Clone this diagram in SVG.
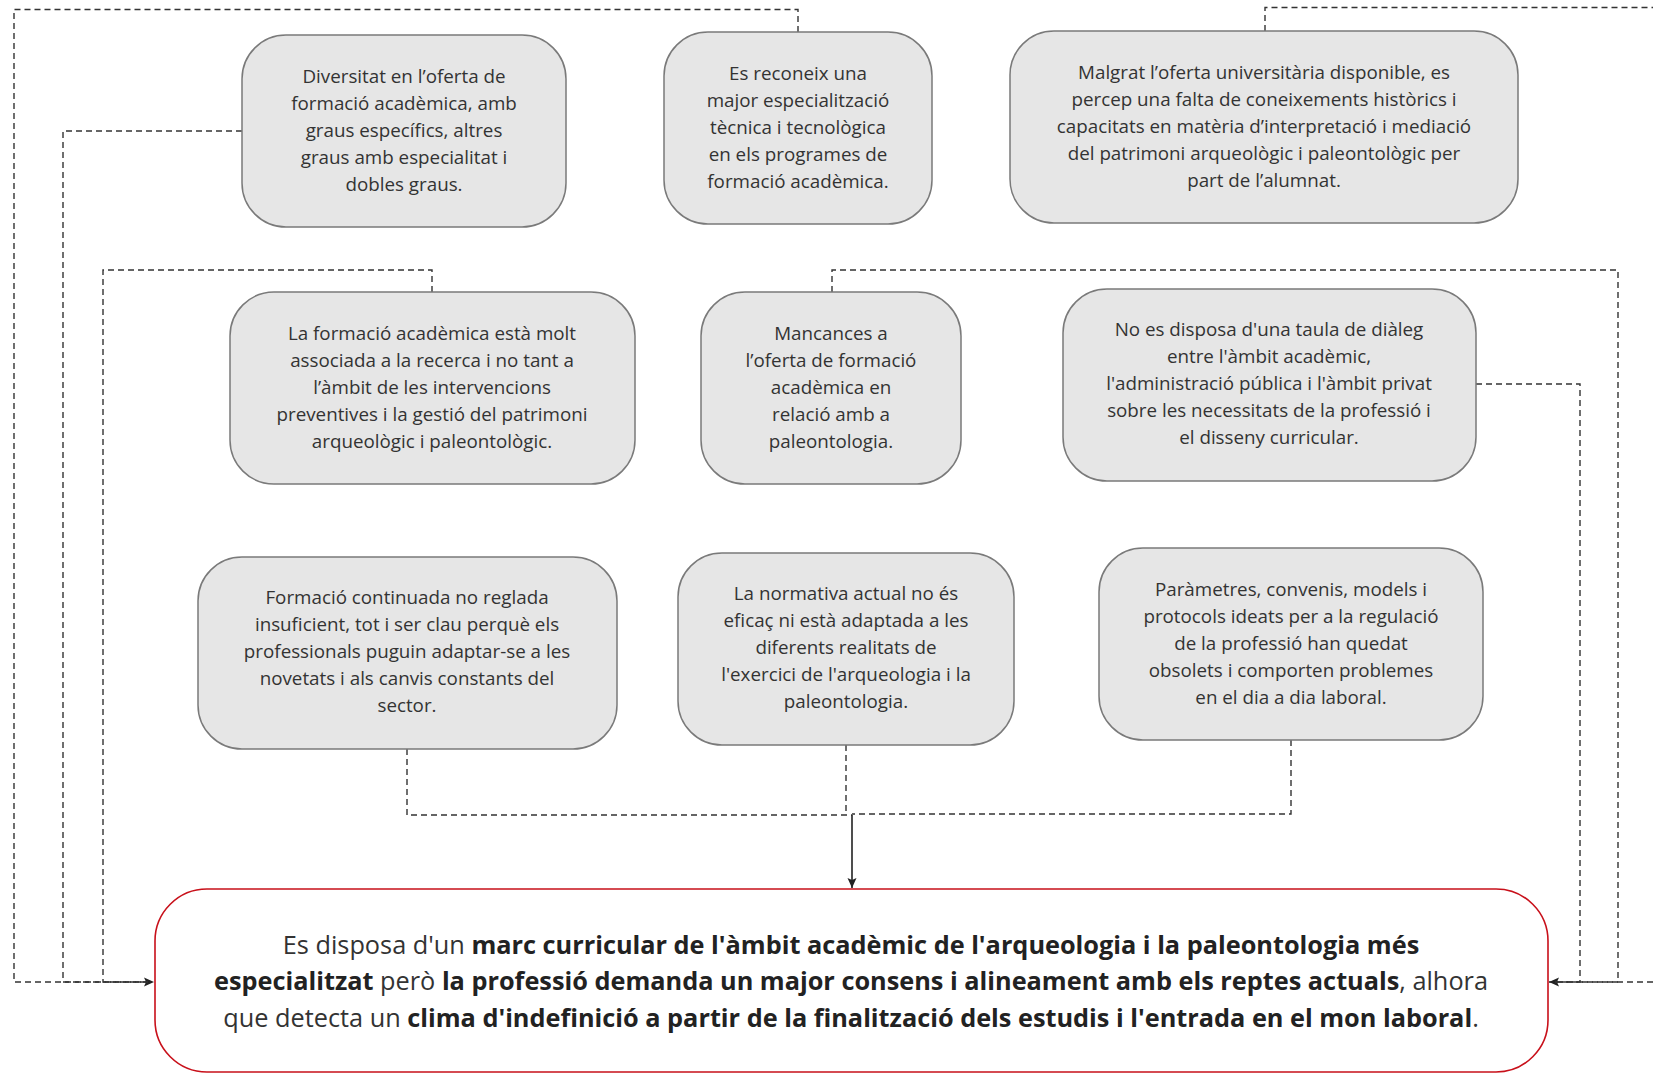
<svg xmlns="http://www.w3.org/2000/svg" width="1653" height="1073" viewBox="0 0 1653 1073">
<style>
.box{fill:#e6e6e6;stroke:#7a7a7a;stroke-width:1.5}
.main{fill:#fff;stroke:#c8101a;stroke-width:1.6}
.t{font-family:"Open Sans","Noto Sans",sans-serif;font-size:18.8px;fill:#333;text-anchor:middle}
.m{font-family:"Open Sans","Noto Sans",sans-serif;font-size:25.3px;fill:#333;text-anchor:middle}
.b{font-weight:bold;fill:#222}
.dash{fill:none;stroke:#333;stroke-width:1.4;stroke-dasharray:6 4}
.solid{fill:none;stroke:#222;stroke-width:1.6}
</style>
<defs>
<marker id="ah" viewBox="0 0 10 10" refX="10" refY="5" markerWidth="10" markerHeight="10" orient="auto" markerUnits="userSpaceOnUse">
<path d="M0,0.5 L10,5 L0,9.5 L2,5 z" fill="#222"/>
</marker>
</defs>
<rect width="1653" height="1073" fill="#fff"/>
<g id="connectors">
<path class="dash" d="M798,32 V9.5 H14 V982 H154" marker-end="url(#ah)"/>
<path class="dash" d="M242,131 H63 V982 H148"/>
<path class="dash" d="M432,292 V270 H103 V982 H148"/>
<path class="dash" d="M1265,31 V7.5 H1670 V982 H1549" marker-end="url(#ah)"/>
<path class="dash" d="M832,292 V270 H1618 V982 H1555"/>
<path class="dash" d="M1476,384 H1580 V982 H1555"/>
<path class="dash" d="M407,749 V815 H852"/>
<path class="dash" d="M846,745 V815"/>
<path class="dash" d="M1291,740 V814 H852"/>
<path class="solid" d="M852,815 V888" marker-end="url(#ah)"/>
</g>
<g id="n1">
<rect class="box" x="242" y="35" width="324" height="192" rx="44"/>
<text class="t"><tspan x="404" y="83">Diversitat en l’oferta de</tspan><tspan x="404" y="110">formació acadèmica, amb</tspan><tspan x="404" y="137">graus específics, altres</tspan><tspan x="404" y="164">graus amb especialitat i</tspan><tspan x="404" y="191">dobles graus.</tspan></text>
</g>
<g id="n2">
<rect class="box" x="664" y="32" width="268" height="192" rx="44"/>
<text class="t"><tspan x="798" y="80">Es reconeix una</tspan><tspan x="798" y="107">major especialització</tspan><tspan x="798" y="134">tècnica i tecnològica</tspan><tspan x="798" y="161">en els programes de</tspan><tspan x="798" y="188">formació acadèmica.</tspan></text>
</g>
<g id="n3">
<rect class="box" x="1010" y="31" width="508" height="192" rx="44"/>
<text class="t"><tspan x="1264" y="79">Malgrat l’oferta universitària disponible, es</tspan><tspan x="1264" y="106">percep una falta de coneixements històrics i</tspan><tspan x="1264" y="133">capacitats en matèria d’interpretació i mediació</tspan><tspan x="1264" y="160">del patrimoni arqueològic i paleontològic per</tspan><tspan x="1264" y="187">part de l’alumnat.</tspan></text>
</g>
<g id="n4">
<rect class="box" x="230" y="292" width="405" height="192" rx="44"/>
<text class="t"><tspan x="432" y="340">La formació acadèmica està molt</tspan><tspan x="432" y="367">associada a la recerca i no tant a</tspan><tspan x="432" y="394">l’àmbit de les intervencions</tspan><tspan x="432" y="421">preventives i la gestió del patrimoni</tspan><tspan x="432" y="448">arqueològic i paleontològic.</tspan></text>
</g>
<g id="n5">
<rect class="box" x="701" y="292" width="260" height="192" rx="44"/>
<text class="t"><tspan x="831" y="340">Mancances a</tspan><tspan x="831" y="367">l’oferta de formació</tspan><tspan x="831" y="394">acadèmica en</tspan><tspan x="831" y="421">relació amb a</tspan><tspan x="831" y="448">paleontologia.</tspan></text>
</g>
<g id="n6">
<rect class="box" x="1063" y="289" width="413" height="192" rx="44"/>
<text class="t"><tspan x="1269" y="336">No es disposa d'una taula de diàleg</tspan><tspan x="1269" y="363">entre l'àmbit acadèmic,</tspan><tspan x="1269" y="390">l'administració pública i l'àmbit privat</tspan><tspan x="1269" y="417">sobre les necessitats de la professió i</tspan><tspan x="1269" y="444">el disseny curricular.</tspan></text>
</g>
<g id="n7">
<rect class="box" x="198" y="557" width="419" height="192" rx="44"/>
<text class="t"><tspan x="407" y="604">Formació continuada no reglada</tspan><tspan x="407" y="631">insuficient, tot i ser clau perquè els</tspan><tspan x="407" y="658">professionals puguin adaptar-se a les</tspan><tspan x="407" y="685">novetats i als canvis constants del</tspan><tspan x="407" y="712">sector.</tspan></text>
</g>
<g id="n8">
<rect class="box" x="678" y="553" width="336" height="192" rx="44"/>
<text class="t"><tspan x="846" y="600">La normativa actual no és</tspan><tspan x="846" y="627">eficaç ni està adaptada a les</tspan><tspan x="846" y="654">diferents realitats de</tspan><tspan x="846" y="681">l'exercici de l'arqueologia i la</tspan><tspan x="846" y="708">paleontologia.</tspan></text>
</g>
<g id="n9">
<rect class="box" x="1099" y="548" width="384" height="192" rx="44"/>
<text class="t"><tspan x="1291" y="596">Paràmetres, convenis, models i</tspan><tspan x="1291" y="623">protocols ideats per a la regulació</tspan><tspan x="1291" y="650">de la professió han quedat</tspan><tspan x="1291" y="677">obsolets i comporten problemes</tspan><tspan x="1291" y="704">en el dia a dia laboral.</tspan></text>
</g>
<g id="main">
<rect class="main" x="155" y="889" width="1393" height="183" rx="52"/>
<text class="m"><tspan x="851" y="954">Es disposa d'un <tspan class="b">marc curricular de l'àmbit acadèmic de l'arqueologia i la paleontologia més</tspan></tspan><tspan x="851" y="990"><tspan class="b">especialitzat</tspan> però <tspan class="b">la professió demanda un major consens i alineament amb els reptes actuals</tspan>, alhora</tspan><tspan x="851" y="1027">que detecta un <tspan class="b">clima d'indefinició a partir de la finalització dels estudis i l'entrada en el mon laboral</tspan>.</tspan></text>
</g>
</svg>
